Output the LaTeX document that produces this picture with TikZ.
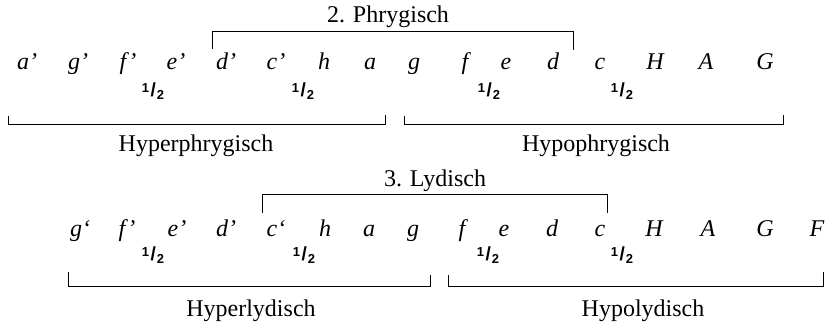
\documentclass[tikz,border=0pt]{standalone}
\usepackage{fontspec}
\setmainfont{Liberation Serif}
\setsansfont{Liberation Sans}
\usepackage{tikz}
\newcommand\halfmk{{\sffamily\bfseries\raisebox{4pt}{\fontsize{13}{13}\selectfont 1}\kern1.5pt{\fontsize{19}{19}\selectfont/}\kern1pt\raisebox{-3pt}{\fontsize{13}{13}\selectfont 2}}}
\tikzset{
  note/.style={anchor=base, inner sep=0pt, font=\fontsize{24}{28}\selectfont\itshape},
  lab/.style={anchor=base, inner sep=0pt, font=\fontsize{24}{28}\selectfont},
  half/.style={anchor=center, inner sep=0pt},
  brk/.style={line width=1pt, line cap=butt, line join=miter}
}
\begin{document}
\begin{tikzpicture}[x=1pt,y=-1pt]
\useasboundingbox (0,0) rectangle (833,328);
% Row 1
\foreach \n/\x/\t in {a1/27/a', b1/78/g', c1/128/f', d1/176/e', e1/226/d', f1/276/c', g1/324/h, h1/370/a, i1/414/g, j1/465/f, k1/506/e, l1/553/d, m1/600/c, n1/655/H, o1/706/A, p1/765/G}
  \node[note] (\n) at (\x,70) {\t};
\foreach \n/\x in {ha1/153, hb1/303, hc1/489, hd1/622}
  \node[half] (\n) at (\x,91) {\halfmk};
\node[lab] (phr) at (388,23) {2. Phrygisch};
\node[lab] (hyperphr) at (196,152) {Hyperphrygisch};
\node[lab] (hypophr) at (596,152) {Hypophrygisch};
\draw[brk] (212,49) -- (212,32) -- (573,32) -- (573,50);
\draw[brk] (8,116) -- (8,125) -- (385,125) -- (385,115);
\draw[brk] (404,116) -- (404,125) -- (783,125) -- (783,115);
% Row 2
\foreach \n/\x/\t in {b2/80/g`, c2/127/f', d2/177/e', e2/226/d', f2/276/c`, g2/325/h, h2/369/a, i2/413/g, j2/462/f, k2/504/e, l2/552/d, m2/600/c, n2/654/H, o2/708/A, p2/765/G, q2/817/F}
  \node[note] (\n) at (\x,237) {\t};
\foreach \n/\x in {ha2/153, hb2/304, hc2/488, hd2/622}
  \node[half] (\n) at (\x,255) {\halfmk};
\node[lab] (lyd) at (435,187) {3. Lydisch};
\node[lab] (hyperlyd) at (251,317) {Hyperlydisch};
\node[lab] (hypolyd) at (643,317) {Hypolydisch};
\draw[brk] (262,213) -- (262,195) -- (607,195) -- (607,213);
\draw[brk] (68,272) -- (68,287) -- (430,287) -- (430,275);
\draw[brk] (448,275) -- (448,287) -- (823,287) -- (823,272);
\end{tikzpicture}
\end{document}
